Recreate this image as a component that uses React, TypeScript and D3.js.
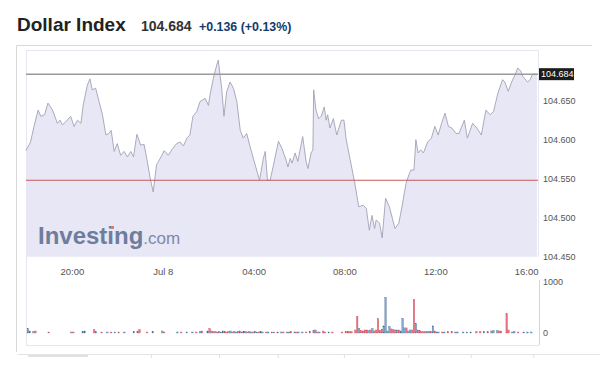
import * as d3 from 'd3';
import React, { useEffect, useRef } from 'react';

// minutes since Jul 7 18:00
const priceMinutes = [
  0, 12, 21, 32, 39, 49, 58, 70, 83, 90, 96, 105, 118, 127, 136, 145, 151, 162, 169, 175,
  184, 193, 202, 211, 219, 225, 233, 241, 250, 259, 268, 277, 284, 293, 303, 312, 319, 328, 336, 345,
  350, 359, 365, 376, 385, 398, 407, 416, 425, 433, 441, 451, 460, 473, 482, 486, 495, 504, 508, 513,
  517, 523, 530, 539, 548, 557, 566, 574, 583, 592, 603, 617, 627, 632, 638, 645, 654, 667, 676, 687,
  692, 698, 703, 711, 718, 731, 740, 745, 753, 758, 760, 766, 773, 780, 788, 793, 797, 803, 812, 821,
  833, 840, 846, 859, 868, 879, 891, 899, 907, 914, 921, 925, 934, 941, 950, 960, 975, 985, 994, 1004,
  1013, 1017, 1025, 1030, 1036, 1043, 1050, 1061, 1071, 1080, 1089, 1098, 1107, 1116, 1125, 1136, 1144, 1158, 1166, 1180,
  1191, 1203, 1215, 1226, 1235, 1247, 1259, 1265, 1274, 1283, 1292, 1299, 1307, 1313, 1325, 1332, 1338, 1350,
];
const prices = [
  104.586, 104.597, 104.617, 104.638, 104.63, 104.632, 104.647, 104.638, 104.621, 104.625, 104.619, 104.623, 104.63, 104.617, 104.625, 104.621, 104.644, 104.67, 104.678, 104.664,
  104.666, 104.649, 104.632, 104.606, 104.608, 104.612, 104.585, 104.595, 104.58, 104.585, 104.578, 104.585, 104.578, 104.607, 104.593, 104.594, 104.576, 104.551, 104.533, 104.568,
  104.572, 104.58, 104.586, 104.58, 104.587, 104.595, 104.597, 104.592, 104.602, 104.606, 104.63, 104.636, 104.649, 104.653, 104.644, 104.657, 104.679, 104.696, 104.702, 104.681,
  104.666, 104.63, 104.661, 104.674, 104.666, 104.649, 104.612, 104.602, 104.608, 104.591, 104.572, 104.548, 104.576, 104.585, 104.548, 104.548, 104.568, 104.598, 104.589, 104.574,
  104.565, 104.576, 104.57, 104.583, 104.572, 104.604, 104.572, 104.563, 104.583, 104.587, 104.664, 104.638, 104.627, 104.63, 104.642, 104.625, 104.632, 104.615, 104.627, 104.606,
  104.625, 104.625, 104.6, 104.568, 104.546, 104.514, 104.516, 104.512, 104.484, 104.503, 104.486, 104.497, 104.493, 104.474, 104.525, 104.514, 104.486, 104.493, 104.516, 104.544,
  104.557, 104.561, 104.561, 104.6, 104.583, 104.587, 104.583, 104.597, 104.602, 104.617, 104.606, 104.621, 104.634, 104.617, 104.615, 104.608, 104.608, 104.625, 104.602, 104.621,
  104.615, 104.606, 104.638, 104.632, 104.636, 104.66, 104.677, 104.674, 104.662, 104.674, 104.683, 104.692, 104.688, 104.681, 104.674, 104.677, 104.684, 104.684,
];

// 5 minute volume bars (only the visible ones), dir: 1 up / -1 down
const volMinutes = [
  5, 10, 20, 25, 60, 120, 125, 150, 155, 180, 185, 200, 215, 225, 235, 245, 260, 285, 295, 300,
  320, 335, 360, 365, 400, 410, 425, 440, 450, 460, 465, 480, 485, 490, 495, 500, 505, 510, 515, 520,
  525, 530, 535, 540, 545, 550, 555, 560, 565, 570, 575, 580, 585, 590, 595, 600, 605, 610, 615, 620,
  625, 635, 640, 650, 655, 665, 675, 680, 690, 695, 700, 710, 715, 720, 730, 740, 750, 760, 765, 770,
  775, 785, 790, 800, 810, 835, 845, 850, 855, 860, 870, 875, 880, 885, 890, 895, 900, 905, 910, 915,
  920, 925, 930, 935, 940, 945, 950, 955, 960, 965, 970, 975, 980, 985, 990, 995, 1000, 1005, 1010, 1015,
  1020, 1025, 1030, 1035, 1040, 1045, 1050, 1055, 1060, 1065, 1070, 1075, 1080, 1085, 1090, 1100, 1105, 1115, 1125, 1135,
  1140, 1155, 1165, 1175, 1190, 1200, 1210, 1220, 1230, 1235, 1245, 1250, 1255, 1270, 1275, 1285, 1290, 1300, 1315, 1325,
  1335,
];
const volumes = [
  90, 40, 30, 40, 20, 20, 20, 30, 40, 70, 30, 20, 20, 20, 20, 20, 20, 30, 40, 70,
  20, 30, 40, 20, 20, 20, 20, 20, 20, 30, 40, 40, 90, 40, 30, 30, 20, 30, 20, 40,
  30, 20, 30, 40, 20, 30, 20, 30, 40, 20, 30, 30, 20, 30, 20, 20, 30, 20, 20, 30,
  20, 20, 20, 20, 20, 20, 20, 20, 20, 20, 30, 20, 20, 20, 20, 20, 30, 50, 60, 20,
  20, 40, 20, 20, 20, 20, 30, 30, 30, 30, 60, 330, 90, 50, 40, 60, 60, 50, 60, 90,
  40, 60, 280, 50, 70, 140, 700, 40, 130, 80, 70, 60, 60, 60, 40, 290, 100, 100, 40, 60,
  60, 660, 190, 60, 50, 30, 30, 30, 30, 30, 30, 140, 40, 20, 20, 20, 20, 30, 30, 20,
  20, 20, 20, 20, 30, 30, 30, 30, 40, 50, 50, 40, 40, 380, 60, 20, 30, 20, 20, 20,
  20,
];
const volDirs = [
  1, 1, 1, -1, -1, 1, -1, 1, 1, -1, 1, -1, 1, -1, 1, -1, 1, 1, -1, -1,
  -1, 1, 1, -1, 1, -1, 1, 1, -1, 1, -1, 1, -1, 1, -1, -1, 1, -1, 1, 1,
  -1, -1, 1, 1, -1, 1, 1, -1, 1, -1, 1, 1, -1, 1, 1, -1, 1, 1, -1, 1,
  1, -1, 1, 1, -1, 1, 1, -1, 1, 1, -1, 1, -1, 1, 1, -1, 1, -1, 1, -1,
  1, -1, -1, 1, -1, -1, -1, -1, -1, -1, -1, -1, 1, -1, -1, -1, -1, 1, -1, 1,
  -1, -1, -1, -1, -1, 1, 1, 1, 1, -1, -1, -1, 1, -1, 1, 1, 1, -1, 1, 1,
  -1, -1, 1, -1, -1, -1, -1, -1, 1, 1, -1, 1, -1, 1, 1, -1, 1, -1, -1, 1,
  1, 1, 1, 1, -1, -1, 1, -1, 1, 1, 1, -1, -1, -1, -1, 1, 1, -1, 1, 1,
  1,
];

const xTickMinutes = [120, 360, 600, 840, 1080, 1320];
const xTickLabels = ['20:00', 'Jul 8', '04:00', '08:00', '12:00', '16:00'];
const yTicks = [104.45, 104.5, 104.55, 104.6, 104.65];
const volTicks = [0, 1000];
const navTickMinutes = [330, 510, 665, 840, 1010, 1175, 1340];

const lastPrice = 104.684;
const prevClose = 104.548;

const FONT = "'Liberation Sans', Arial, sans-serif";

const App: React.FC = () => {
  const ref = useRef<SVGSVGElement | null>(null);

  useEffect(() => {
    if (!ref.current) return;
    const svg = d3.select(ref.current);
    svg.selectAll('*').remove();

    const x = d3.scaleLinear().domain([0, 1350]).range([26, 537]);
    const y = d3.scaleLinear().domain([104.45, 104.715]).range([256.7, 50]);
    const yv = d3.scaleLinear().domain([0, 1000]).range([333, 282]);

    // title
    svg.append('text').attr('x', 17).attr('y', 31).attr('font-family', FONT)
      .attr('font-size', 19).attr('font-weight', 'bold').attr('fill', '#222').text('Dollar Index');
    svg.append('text').attr('x', 141).attr('y', 31).attr('font-family', FONT)
      .attr('font-size', 14).attr('font-weight', 'bold').attr('fill', '#333').text('104.684');
    svg.append('text').attr('x', 199).attr('y', 31).attr('font-family', FONT)
      .attr('font-size', 12.4).attr('font-weight', 'bold').attr('fill', '#123a6b').text('+0.136 (+0.13%)');

    // frame
    svg.append('path').attr('d', 'M16.5,352 L16.5,45.5 L592,45.5')
      .attr('fill', 'none').attr('stroke', '#d8d8d8');
    svg.append('path').attr('d', 'M26.5,345.5 L26.5,50.5 L538.5,50.5 L538.5,257')
      .attr('fill', 'none').attr('stroke', '#e6e6f0');
    svg.append('line').attr('x1', 26).attr('x2', 539).attr('y1', 345.5).attr('y2', 345.5)
      .attr('stroke', '#e6e6e6');

    // area + line
    const pts = priceMinutes.map((m, i) => ({ m, v: prices[i] }));
    const area = d3.area<{ m: number; v: number }>()
      .x((d) => x(d.m)).y0(y(104.45)).y1((d) => y(d.v));
    const line = d3.line<{ m: number; v: number }>().x((d) => x(d.m)).y((d) => y(d.v));
    svg.append('path').datum(pts).attr('d', area).attr('fill', '#e7e7f6');

    // watermark
    const wm = svg.append('text').attr('x', 38).attr('y', 244).attr('font-family', FONT);
    wm.append('tspan').attr('font-size', 24).attr('font-weight', 'bold').attr('fill', '#6f7d9c').text('Investing');
    wm.append('tspan').attr('font-size', 17).attr('fill', '#7d8aa6').text('.com');
    svg.append('rect').attr('x', 111).attr('y', 226).attr('width', 3).attr('height', 3).attr('fill', '#e07a7a');

    svg.append('path').datum(pts).attr('d', line).attr('fill', 'none')
      .attr('stroke', '#a2a2b4').attr('stroke-width', 0.9);

    // reference lines
    svg.append('line').attr('x1', 26).attr('x2', 538).attr('y1', y(lastPrice)).attr('y2', y(lastPrice))
      .attr('stroke', '#9a9a9a').attr('stroke-width', 1.5);
    svg.append('line').attr('x1', 26).attr('x2', 538).attr('y1', y(prevClose)).attr('y2', y(prevClose))
      .attr('stroke', '#c9585a').attr('stroke-width', 1);

    // y axis labels
    svg.selectAll('.ylab').data(yTicks).enter().append('text')
      .attr('x', 543).attr('y', (d) => y(d) + 3.3).attr('font-family', FONT).attr('font-size', 9)
      .attr('fill', '#555').text((d) => d.toFixed(3));
    svg.append('rect').attr('x', 539).attr('y', y(lastPrice) - 6).attr('width', 35).attr('height', 12)
      .attr('fill', '#1c1c1c');
    svg.append('text').attr('x', 541).attr('y', y(lastPrice) + 3.3).attr('font-family', FONT)
      .attr('font-size', 9).attr('fill', '#fff').text(lastPrice.toFixed(3));

    // x axis labels
    svg.selectAll('.xlab').data(xTickMinutes).enter().append('text')
      .attr('x', (d) => x(d) + 1).attr('y', 274.5).attr('text-anchor', 'middle')
      .attr('font-family', FONT).attr('font-size', 9.5).attr('fill', '#555')
      .text((_, i) => xTickLabels[i]);

    // volume
    const bw = x(5) - x(0) - 0.3;
    svg.selectAll('.vol').data(volMinutes).enter().append('rect')
      .attr('x', (d) => x(d) - bw / 2)
      .attr('y', (_, i) => yv(volumes[i]))
      .attr('width', bw)
      .attr('height', (_, i) => yv(0) - yv(volumes[i]))
      .attr('fill', (_, i) => (volDirs[i] > 0 ? '#7fa8d6' : '#e57580'))
      .attr('stroke', (_, i) => (volDirs[i] > 0 ? '#45698f' : '#c9505c'))
      .attr('stroke-width', 0.3);
    svg.append('line').attr('x1', 539.5).attr('x2', 539.5).attr('y1', 280).attr('y2', 345)
      .attr('stroke', '#ccd6eb');
    svg.selectAll('.vlab').data(volTicks).enter().append('text')
      .attr('x', 543).attr('y', (d) => yv(d) + 3.3).attr('font-family', FONT).attr('font-size', 9)
      .attr('fill', '#555').text((d) => String(d));

    // navigator
    svg.append('line').attr('x1', 18).attr('x2', 600).attr('y1', 354.5).attr('y2', 354.5)
      .attr('stroke', '#e4e4e4');
    svg.append('rect').attr('x', 28).attr('y', 355).attr('width', 60).attr('height', 2).attr('fill', '#e0e0e6');
    svg.selectAll('.nav').data(navTickMinutes).enter().append('line')
      .attr('x1', (d) => x(d) + 0.5).attr('x2', (d) => x(d) + 0.5).attr('y1', 354).attr('y2', 358)
      .attr('stroke', '#e0e0e0');
  }, []);

  return (
    <svg
      ref={ref}
      width={600}
      height={373}
      style={{ position: 'absolute', left: 0, top: 0, background: '#fff' }}
    />
  );
};

export default App;
